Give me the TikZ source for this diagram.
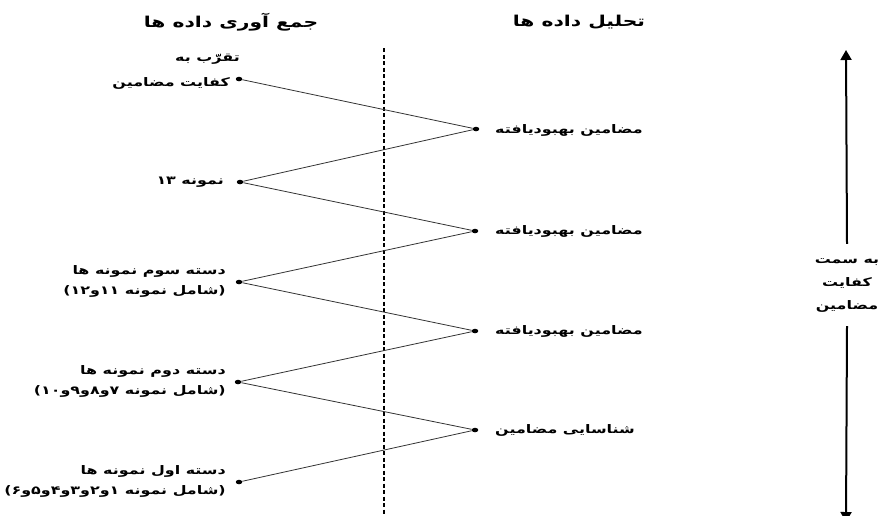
\documentclass[tikz,border=0pt]{standalone}
\usepackage{fontspec}
\newfontfamily\arabicfont[Script=Arabic,FakeStretch=1.35]{DejaVu Sans}
\TeXXeTstate=1
\newcommand{\fatxt}[1]{\beginR #1\endR}
\usetikzlibrary{arrows.meta,shapes.geometric}

\begin{document}
\begin{tikzpicture}[x=1pt,y=-1pt]
	\tikzstyle{every node}=[font=\arabicfont\bfseries\fontsize{11.8}{20}\selectfont,inner sep=0pt]
	\tikzstyle{knot}=[ellipse,fill,minimum width=6.5pt,minimum height=4.5pt,inner sep=0pt]
	\tikzstyle{zig}=[line width=.8pt,black!80]
	\tikzstyle{head}=[font=\arabicfont\bfseries\fontsize{15}{17}\selectfont]
	\tikzstyle{gather}=[anchor=east,align=right]
	\tikzstyle{analyse}=[anchor=west,align=left]
	\useasboundingbox (0,0) rectangle (883,515);
	% column titles
	\node[head] (hgather) at (231,22) {\fatxt{جمع آوری داده ها}};
	\node[head] (hanalyse) at (579,22) {\fatxt{تحلیل داده ها}};
	\coordinate (dtop) at (384,48);
	\coordinate (dbot) at (384,515);
	\draw[dashed,dash pattern=on 4pt off 2.5pt,line width=1.1pt] (dtop)--(dbot);
	% data gathering side
	\node[knot] (gd1) at (239,79) {};
	\node[knot] (gd2) at (240,182) {};
	\node[knot] (gd3) at (239,282) {};
	\node[knot] (gd4) at (238,382) {};
	\node[knot] (gd5) at (239,482) {};
	\node[gather,font=\arabicfont\bfseries\fontsize{11.8}{25}\selectfont] (g1) at (230,72) {\fatxt{تقرّب به}\kern-10pt\\\fatxt{کفایت مضامین}};
	\node[gather] (g2) at (224,182) {\fatxt{نمونه ۱۳}};
	\node[gather] (g3) at (226,281) {\fatxt{دسته سوم نمونه ها}\\\fatxt{(شامل نمونه ۱۱و۱۲)}};
	\node[gather] (g4) at (226,381) {\fatxt{دسته دوم نمونه ها}\\\fatxt{(شامل نمونه ۷و۸و۹و۱۰)}};
	\node[gather] (g5) at (226,481) {\fatxt{دسته اول نمونه ها}\\\fatxt{(شامل نمونه ۱و۲و۳و۴و۵و۶)}};
	% data analysis side
	\node[knot] (ad1) at (476,129) {};
	\node[knot] (ad2) at (475,231) {};
	\node[knot] (ad3) at (475,331) {};
	\node[knot] (ad4) at (475,430) {};
	\node[analyse] (a1) at (495,130) {\fatxt{مضامین بهبودیافته}};
	\node[analyse] (a2) at (495,231) {\fatxt{مضامین بهبودیافته}};
	\node[analyse] (a3) at (495,331) {\fatxt{مضامین بهبودیافته}};
	\node[analyse] (a4) at (495,430) {\fatxt{شناسایی مضامین}};
	\draw[zig] (gd1)--(ad1)--(gd2)--(ad2)--(gd3)--(ad3)--(gd4)--(ad4)--(gd5);
	% direction arrow
	\node[align=center,inner ysep=14pt,font=\arabicfont\bfseries\fontsize{11.8}{23}\selectfont] (goal) at (847,285) {\fatxt{به سمت}\\\fatxt{کفایت}\\\fatxt{مضامین}};
	\coordinate (gtop) at (846,50);
	\coordinate (gbot) at (846,522);
	\draw[line width=2pt,-{Triangle[width=11pt,length=10pt]}] (goal.north)--(gtop);
	\draw[line width=2pt,-{Triangle[width=11pt,length=10pt]}] (goal.south)--(gbot);
\end{tikzpicture}
\end{document}
